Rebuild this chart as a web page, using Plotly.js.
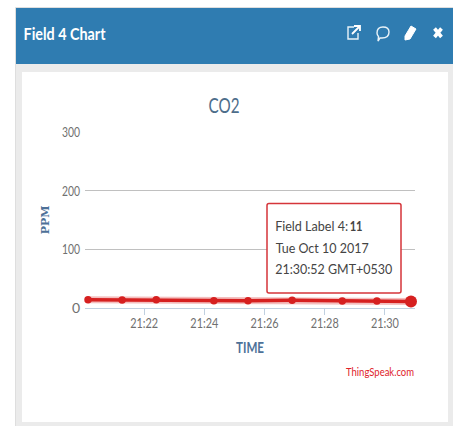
<!DOCTYPE html>
<html><head><meta charset="utf-8">
<script src="https://cdn.plot.ly/plotly-3.0.0.min.js"></script>
<style>html,body{margin:0;padding:0;background:#fff}#c{width:453px;height:426px}</style></head>
<body><div id="c"></div>
<script>
const times = ["2017-10-10 21:20:08","2017-10-10 21:21:16","2017-10-10 21:22:24","2017-10-10 21:24:19","2017-10-10 21:25:27","2017-10-10 21:26:55","2017-10-10 21:28:35","2017-10-10 21:29:44","2017-10-10 21:30:52"];
const co2 = [14,13.5,14,12.5,12.5,13,12,12,11];
const tickVals = ["2017-10-10 21:22","2017-10-10 21:24","2017-10-10 21:26","2017-10-10 21:28","2017-10-10 21:30"];
const tickText = ["21:22","21:24","21:26","21:28","21:30"];
const W=453,H=426,L=85,R=415,T=132,B=308;
const FONT='Lato,"Open Sans",sans-serif';
const px=x=>(x-L)/(R-L), py=y=>(B-y)/(B-T);
function rect(x0,y0,x1,y1,fill,line){return {type:'rect',xref:'paper',yref:'paper',x0:px(x0),x1:px(x1),y0:py(y0),y1:py(y1),fillcolor:fill,line:line||{width:0},layer:'below'};}
function path(pts,opt){
  const d=pts.map(s=>{let o=s[0];for(let i=1;i<s.length;i+=2){o+=(i>1?' ':'')+px(s[i]).toFixed(5)+','+py(s[i+1]).toFixed(5);}return o;}).join(' ');
  return Object.assign({type:'path',xref:'paper',yref:'paper',path:d,layer:'above'},opt);
}
const white={color:'#e8f2f8',width:1.4};
const shapes=[
 rect(15.5,7.5,460,430,'#ebebeb',{color:'#dedede',width:1}),
 rect(16,8,460,64,'#2f7cb1'),
 rect(22,72,448,422,'#ffffff'),
 path([['M',354,27],['L',348,27],['L',348,39],['L',358,39],['L',358,33]],{line:white}),
 path([['M',352,34],['L',359,27],['M',354,26],['L',360,26],['L',360,31]],{line:{color:'#fff',width:1.8}}),
 path([['M',377,33],['Q',377,27,383,27],['Q',389,27,389,32],['Q',389,38,382,38],['L',380,38],['L',378,41],['L',378.5,36.5],['Q',377,35,377,33],['Z']],{line:white}),
 path([['M',405,36],['L',411,26],['L',416,29],['L',410,39],['L',405,40],['Z']],{fillcolor:'#fff',line:{color:'#fff',width:1}}),
 path([['M',434.5,28.5],['L',441.5,37],['M',441.5,28.5],['L',434.5,37]],{line:{color:'#fff',width:3.6}}),
 path([['M',269,203.5],['L',399,203.5],['Q',401,203.5,401,205.5],['L',401,291],['Q',401,293,399,293],['L',269,293],['Q',267,293,267,291],['L',267,205.5],['Q',267,203.5,269,203.5],['Z']],{fillcolor:'#ffffff',line:{color:'#d5353a',width:1.5}})
];
const traces=[
 {x:times,y:co2,mode:'lines',line:{color:'rgba(220,40,40,0.3)',width:7},hoverinfo:'skip',cliponaxis:false},
 {x:times,y:co2,mode:'lines+markers',line:{color:'#d62020',width:3.5},marker:{color:'#d62020',size:7.5},cliponaxis:false},
 {x:times.slice(-1),y:co2.slice(-1),mode:'markers',marker:{color:'#d62020',size:12},cliponaxis:false}
];
function note(x,y,text,size,color){return {xref:'paper',yref:'paper',x:px(x),y:py(y),text:text,showarrow:false,xanchor:'center',yanchor:'middle',borderpad:0,font:{family:FONT,size:size,color:color}};}
const layout={
 width:W,height:H,showlegend:false,paper_bgcolor:'#fff',plot_bgcolor:'rgba(0,0,0,0)',
 margin:{l:L,r:W-R,t:T,b:H-B},
 title:{text:'CO2',x:224/W,xanchor:'center',y:1-105/H,yanchor:'middle',font:{family:FONT,size:22,color:'#4d6d8a'}},
 xaxis:{type:'date',range:["2017-10-10 21:20:02","2017-10-10 21:31:00"],tickvals:tickVals,ticktext:tickText,ticks:'outside',ticklen:6,tickcolor:'#c0d0e0',tickwidth:1,linecolor:'#c0d0e0',linewidth:1,showline:true,showgrid:false,zeroline:false,ticklabelstandoff:-4,tickfont:{family:FONT,size:14,color:'#707070'},
   title:{text:'TIME',standoff:12,font:{family:FONT,size:15,color:'#4d7198',weight:'bold'}}},
 yaxis:{range:[0,300],tickvals:[0,100,200,300],ticks:'',gridcolor:'#c0c0c0',gridwidth:1,zeroline:false,showline:false,ticklabelstandoff:4,tickfont:{family:FONT,size:14,color:'#707070'},
   title:{text:'PPM',standoff:3,font:{family:'"DejaVu Serif",serif',size:11,color:'#4d7198',weight:'bold'}}},
 shapes:shapes,
 annotations:[
  note(65,33,'<b>Field 4 Chart</b>',17,'#ffffff'),
  note(311.5,225,'Field Label 4:',14,'#444'),
  note(355.5,225,'<b>11</b>',14,'#444'),
  note(321.5,247,'Tue Oct 10 2017',14,'#444'),
  note(333.5,268,'21:30:52 GMT+0530',14,'#444'),
  note(380,371,'ThingSpeak.com',12,'#e0222a')
 ]
};
// widths of the narrow reference typeface, applied to the live text
const textWidths={'CO2':31,'TIME':28,'Field 4 Chart':82,'Field Label 4:':73,'11':13,'Tue Oct 10 2017':93,'21:30:52 GMT+0530':117,'ThingSpeak.com':68,'100':18,'200':18,'300':18};
Plotly.newPlot('c',traces,layout,{displayModeBar:false,staticPlot:true}).then(gd=>{
  gd.querySelectorAll('svg text').forEach(t=>{
    const s=t.textContent.trim();
    let w=textWidths[s];
    if(!w && /^\d\d:\d\d$/.test(s)) w=28;
    if(!w) return;
    t.setAttribute('textLength',w);
    t.setAttribute('lengthAdjust','spacingAndGlyphs');
  });
});
</script></body></html>
